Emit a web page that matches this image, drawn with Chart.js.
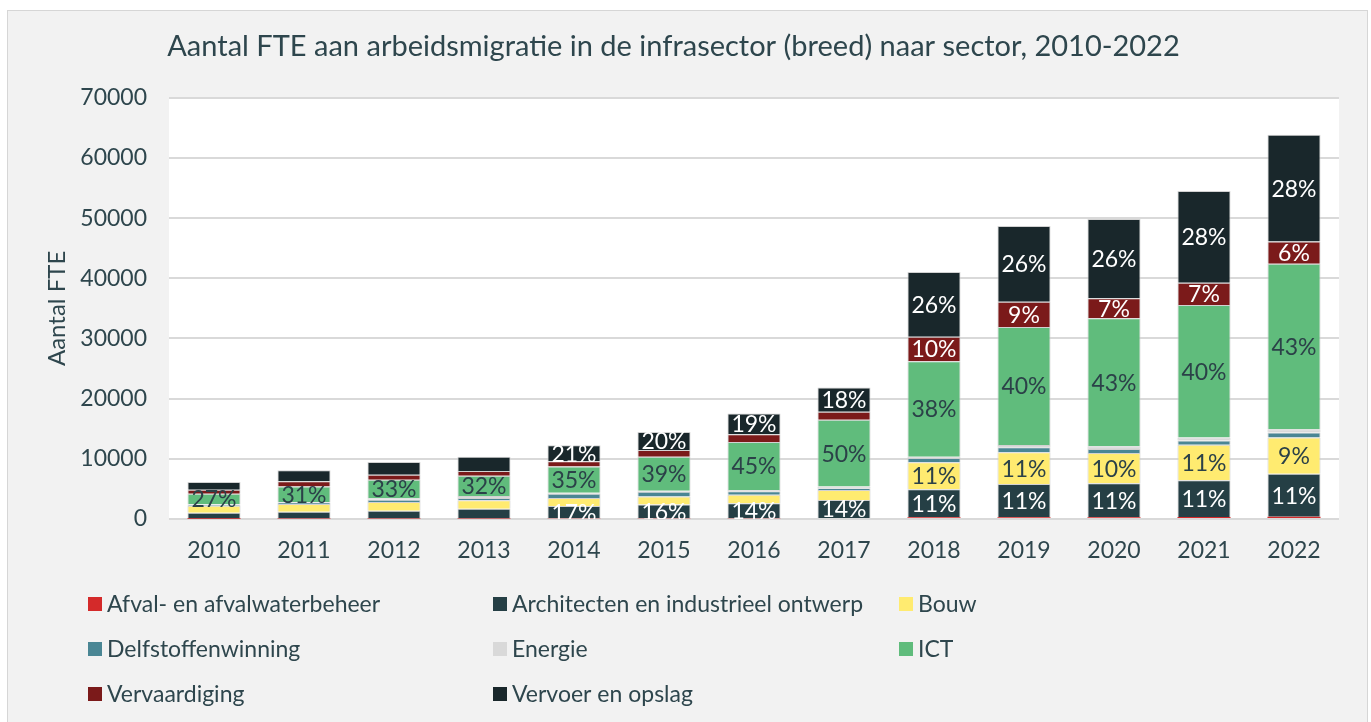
<!DOCTYPE html>
<html>
<head>
<meta charset="utf-8">
<script src="https://cdn.jsdelivr.net/npm/chart.js@4.4.0/dist/chart.umd.min.js"></script>
<style>
  body { margin: 0; background: #ffffff; overflow: hidden; }
  #frame {
    position: absolute; left: 7px; top: 10px;
    width: 1359px; height: 720px;
    border: 1px solid #d6d6d6; background: #f2f2f2;
  }
  #graph { display: block; }
</style>
</head>
<body>
<div id="frame"><canvas id="graph" width="1359" height="711"></canvas></div>
<script>
const years = ["2010","2011","2012","2013","2014","2015","2016","2017","2018","2019","2020","2021","2022"];

const afval       = [60, 80, 90, 100, 110, 120, 130, 150, 280, 300, 300, 320, 390];
const architecten = [990, 1140, 1290, 1610, 2050, 2280, 2500, 3000, 4650, 5500, 5650, 6100, 7150];
const bouw        = [1160, 1280, 1450, 1400, 1350, 1330, 1400, 1670, 4500, 5300, 5000, 5900, 5990];
const delfstoffen = [150, 250, 350, 380, 700, 800, 580, 300, 700, 830, 670, 730, 830];
const energie     = [100, 80, 260, 340, 150, 150, 220, 270, 200, 380, 450, 500, 560];
const ict         = [1750, 2560, 3100, 3350, 4350, 5670, 7950, 11100, 15900, 19600, 21300, 22000, 27500];
const vervaardiging = [660, 880, 830, 790, 880, 1120, 1300, 1330, 4050, 4200, 3300, 3700, 3700];
const vervoer     = [1260, 1850, 2110, 2380, 2650, 2980, 3450, 4050, 10750, 12600, 13200, 15250, 17750];

// percentage labels as printed in the bars (null = no label)
const architectenPct = [null, null, null, null, "17%", "16%", "14%", "14%", "11%", "11%", "11%", "11%", "11%"];
const bouwPct        = [null, null, null, null, null, null, null, null, "11%", "11%", "10%", "11%", "9%"];
const ictPct         = ["27%", "31%", "33%", "32%", "35%", "39%", "45%", "50%", "38%", "40%", "43%", "40%", "43%"];
const vervaardigingPct = [null, null, null, null, null, null, null, null, "10%", "9%", "7%", "7%", "6%"];
const vervoerPct     = [null, null, null, null, "21%", "20%", "19%", "18%", "26%", "26%", "26%", "28%", "28%"];

const yTicks = [0, 10000, 20000, 30000, 40000, 50000, 60000, 70000];

const textColor = "#2e464d";
const fontName = "Lato, 'Open Sans', sans-serif";

function ds(label, data, color, pct, pctColor) {
  return {
    label: label, data: data, backgroundColor: color,
    borderColor: "rgba(205,205,205,0.9)", borderWidth: 1,
    pct: pct, pctColor: pctColor
  };
}

const datasets = [
  ds("Afval- en afvalwaterbeheer", afval, "#d42a2a", null, null),
  ds("Architecten en industrieel ontwerp", architecten, "#253f45", architectenPct, "#ffffff"),
  ds("Bouw", bouw, "#ffeb70", bouwPct, "#2b4148"),
  ds("Delfstoffenwinning", delfstoffen, "#4a8694", null, null),
  ds("Energie", energie, "#d9d9d9", null, null),
  ds("ICT", ict, "#60bc7c", ictPct, "#2b4148"),
  ds("Vervaardiging", vervaardiging, "#7b1a1a", vervaardigingPct, "#ffffff"),
  ds("Vervoer en opslag", vervoer, "#19272b", vervoerPct, "#ffffff")
];
datasets[0].borderWidth = 0;

// white plot area
const plotBg = {
  id: "plotBg",
  beforeDraw(chart) {
    const a = chart.chartArea, c = chart.ctx;
    c.save();
    c.fillStyle = "#ffffff";
    c.fillRect(a.left, a.top, a.right - a.left, a.bottom - a.top);
    c.restore();
  }
};

// percentage text in the middle of each segment
const pctLabels = {
  id: "pctLabels",
  afterDatasetsDraw(chart) {
    const c = chart.ctx, a = chart.chartArea;
    c.save();
    c.beginPath();
    c.rect(a.left, a.top, a.right - a.left, a.bottom - a.top);
    c.clip();
    c.font = "23px " + fontName;
    c.textAlign = "center";
    c.textBaseline = "middle";
    chart.data.datasets.forEach((d, i) => {
      if (!d.pct) return;
      chart.getDatasetMeta(i).data.forEach((bar, j) => {
        if (!d.pct[j]) return;
        c.fillStyle = d.pctColor;
        c.fillText(d.pct[j], bar.x, (bar.y + bar.base) / 2 + 1);
      });
    });
    c.restore();
  }
};

// legend in three columns like the original
const gridLegend = {
  id: "gridLegend",
  afterDraw(chart) {
    const c = chart.ctx;
    const colX = [80, 485, 891];
    const rowY = [593, 638, 683];
    c.save();
    c.font = "23px " + fontName;
    c.textBaseline = "middle";
    c.textAlign = "left";
    chart.data.datasets.forEach((d, i) => {
      const x = colX[i % 3], y = rowY[Math.floor(i / 3)];
      c.fillStyle = d.backgroundColor;
      c.fillRect(x, y - 7, 14, 14);
      c.fillStyle = textColor;
      c.fillText(d.label, x + 19, y + 1);
    });
    c.restore();
  }
};

const ctx = document.getElementById("graph").getContext("2d");
const graph = new Chart(ctx, {
  type: "bar",
  data: { labels: years, datasets: datasets },
  plugins: [plotBg, pctLabels, gridLegend],
  options: {
    responsive: false,
    animation: false,
    datasets: { bar: { categoryPercentage: 1, barPercentage: 0.59 } },
    layout: { padding: { left: 0, right: 28, top: 0, bottom: 0 } },
    plugins: {
      legend: { display: false },
      tooltip: { enabled: false },
      title: {
        display: true,
        text: "Aantal FTE aan arbeidsmigratie in de infrasector (breed) naar sector, 2010-2022",
        color: textColor,
        font: { family: fontName, size: 29, weight: "normal", lineHeight: 1.2 },
        padding: { top: 18, bottom: 34 }
      }
    },
    scales: {
      x: {
        stacked: true,
        grid: { display: false, drawTicks: false },
        border: { display: false },
        ticks: { color: textColor, padding: 18, font: { family: fontName, size: 23 } },
        afterFit(scale) { scale.height = 203; }
      },
      y: {
        stacked: true,
        min: 0, max: 70000,
        afterBuildTicks(scale) { scale.ticks = yTicks.map(v => ({ value: v })); },
        grid: { color: "#d9d9d9", lineWidth: 2, drawTicks: false },
        border: { display: false },
        ticks: { color: textColor, padding: 22, font: { family: fontName, size: 23 }, callback: v => String(v) },
        title: {
          display: true, text: "Aantal FTE", color: textColor,
          font: { family: fontName, size: 24, weight: "normal" },
          padding: { top: 35, bottom: 0 }
        },
        afterFit(scale) { scale.width = 161; }
      }
    }
  }
});
</script>
</body>
</html>
